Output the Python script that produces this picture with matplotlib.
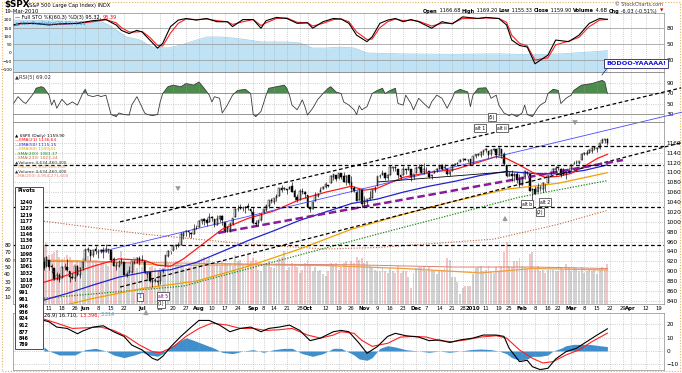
import numpy as np
import pandas as pd
import matplotlib
matplotlib.use("Agg")
import matplotlib.pyplot as plt
from matplotlib.patches import Rectangle, FancyArrowPatch

plt.rcParams['font.family'] = ['DejaVu Sans']

W, H = 682, 373

# ---------------- daily $SPX data, 2009-05-06 .. 2010-03-19 ----------------
opens = [903,919,910,922,911,906,884,892,886,909,908,900,889,887,910,893,907,
         923,942,942,932,945,938,941,943,939,943,942,925,911,910,920,918,893,897,899,918,919,927,
         920,921,894,898,881,881,880,880,900,911,930,940,942,951,953,954,972,979,981,978,976,986,
         990,1001,1005,1003,999,1009,1006,994,1005,1012,999,980,986,996,1009,1026,1026,1027,1027,1032,1025,
         1019,997,997,1003,1019,1024,1033,1044,1040,1049,1053,1068,1066,1067,1066,1072,1062,1050,1045,1063,1061,
         1055,1029,1026,1042,1053,1060,1066,1071,1074,1078,1090,1094,1088,1098,1092,1080,1095,1080,1068,1061,1044,1066,
         1037,1040,1047,1048,1064,1072,1092,1094,1098,1088,1094,1109,1110,1106,1094,1095,1106,1105,1106,1091,
         1098,1109,1111,1101,1105,1103,1092,1098,1104,1107,1114,1108,1106,1097,1103,1115,1118,1121,1127,1128,1125,1127,
         1117,1133,1136,1136,1141,1146,1143,1137,1146,1147,1136,1147,1138,1115,1092,1096,1092,1097,1087,
         1074,1090,1101,1097,1064,1066,1060,1069,1067,1075,1079,1096,1099,1105,1110,1107,1095,1101,1104,
         1106,1117,1119,1119,1125,1138,1137,1140,1143,1151,1148,1150,1160,1166,1166.68]
highs = [920,929,930,922,915,906,898,897,910,917,924,900,896,911,913,909,920,
         947,950,942,942,951,946,946,949,956,946,942,928,918,922,927,918,899,910,921,922,928,931,
         932,921,898,898,887,887,883,901,905,933,942,941,951,956,960,979,979,983,982,979,996,994,
         1003,1006,1007,1008,1018,1011,1006,1013,1013,1013,999,991,999,1008,1027,1035,1037,1033,1033,1039,1025,
         1029,1003,1003,1017,1026,1036,1044,1049,1049,1056,1068,1074,1071,1067,1073,1080,1066,1056,1066,1069,1063,
         1055,1031,1042,1060,1058,1070,1073,1081,1075,1094,1097,1094,1099,1099,1101,1095,1095,1092,1072,1063,1066,1066,
         1053,1046,1062,1066,1072,1093,1096,1105,1101,1097,1114,1111,1112,1106,1094,1112,1107,1112,1106,1097,
         1112,1117,1117,1119,1110,1103,1096,1105,1108,1115,1116,1117,1106,1103,1118,1120,1121,1127,1130,1130,1127,1128,
         1134,1137,1139,1143,1145,1150,1143,1148,1149,1148,1151,1147,1142,1115,1103,1104,1099,1100,1097,
         1090,1104,1102,1097,1068,1072,1079,1074,1080,1077,1095,1101,1108,1112,1113,1108,1108,1103,1108,
         1116,1124,1125,1123,1140,1141,1145,1148,1151,1153,1151,1160,1169,1167,1169.20]
lows = [903,902,909,903,896,882,882,878,886,903,901,879,884,881,891,887,903,
        923,938,923,929,934,926,936,927,939,936,919,911,903,908,915,893,888,896,897,915,916,913,
        920,896,886,879,869,878,872,875,896,911,928,934,940,945,950,953,966,972,969,968,976,986,
        990,995,994,992,999,1001,990,993,1000,994,979,980,980,993,1009,1022,1026,1021,1017,1023,1015,
        996,991,992,1001,1017,1022,1028,1038,1036,1043,1053,1061,1064,1057,1066,1060,1045,1040,1045,1057,1048,
        1029,1020,1025,1042,1050,1060,1066,1068,1070,1078,1085,1082,1086,1086,1080,1074,1075,1060,1060,1042,1044,1033,
        1029,1034,1044,1048,1060,1072,1088,1094,1085,1085,1094,1102,1102,1088,1087,1095,1097,1105,1083,1086,
        1098,1107,1098,1096,1100,1088,1086,1098,1101,1107,1105,1107,1094,1092,1103,1114,1116,1121,1124,1126,1122,1115,
        1117,1130,1134,1131,1136,1141,1130,1133,1143,1129,1136,1129,1114,1090,1092,1082,1083,1078,1071,
        1074,1087,1094,1063,1044,1056,1060,1062,1061,1063,1079,1095,1098,1101,1104,1091,1095,1086,1098,
        1105,1116,1116,1116,1125,1136,1135,1140,1139,1146,1141,1148,1160,1160,1155.33]
closes = [919,907,929,909,908,883,893,882,909,908,903,888,887,910,893,906,919,
          942,944,931,942,940,939,942,939,944,946,923,911,910,918,921,893,895,900,920,918,927,919,
          923,896,898,881,879,882,879,901,905,933,940,940,951,954,954,976,979,982,979,975,986,987,
          1002,1005,1002,997,1010,1007,994,1005,1012,1004,979,990,996,1007,1026,1025,1028,1028,1031,1029,1021,
          998,995,1003,1016,1025,1033,1044,1042,1049,1053,1068,1065,1068,1064,1071,1060,1050,1044,1062,1060,1057,
          1029,1025,1040,1054,1057,1065,1071,1076,1073,1092,1096,1087,1098,1091,1081,1092,1079,1066,1063,1043,1066,1036,
          1042,1046,1047,1066,1069,1093,1093,1098,1088,1094,1110,1110,1109,1095,1091,1106,1105,1110,1091,1096,
          1109,1110,1099,1106,1104,1091,1095,1102,1106,1114,1107,1110,1097,1102,1114,1118,1120,1126,1128,1126,1126,1115,
          1133,1137,1137,1142,1145,1147,1136,1146,1148,1136,1150,1138,1116,1092,1097,1092,1097,1084,1074,
          1090,1103,1098,1063,1066,1057,1071,1068,1079,1075,1095,1100,1107,1109,1108,1094,1106,1102,1105,
          1115,1118,1119,1123,1138,1138,1140,1146,1150,1150,1150,1160,1166,1166,1159.90]
# volume, hundreds of millions of shares
volumes = [84,78,82,66,68,70,73,64,61,63,66,64,58,54,60,57,62,
           64,65,60,58,60,54,56,58,54,52,58,62,60,56,72,60,55,56,54,64,48,52,
           50,42,44,50,52,48,46,48,44,52,56,55,52,58,56,54,50,48,50,52,56,54,
           60,62,64,60,62,52,54,56,52,58,56,54,56,52,66,58,60,54,52,66,58,
           62,60,46,44,52,56,58,50,48,56,62,64,72,46,50,56,54,50,42,46,56,
           60,54,44,50,44,46,40,38,44,56,54,56,46,50,56,58,50,58,56,64,60,62,
           56,58,52,48,46,44,44,48,44,42,48,44,42,52,42,44,44,36,22,42,
           48,50,50,52,44,50,46,44,40,46,46,48,62,60,36,36,30,14,22,24,24,24,
           40,48,50,52,44,46,52,44,42,50,44,52,70,84,52,50,58,58,62,
           52,50,48,68,70,48,52,44,46,42,46,46,46,44,44,50,46,54,50,
           44,50,48,44,50,42,44,46,44,46,40,46,50,46,54]

# trading-day offsets (0 = 2009-05-06) at which the overlays were read
ema21_days = [0,10,20,30,40,45,50,55,60,70,80,90,100,110,120,125,130,140,150,160,170,176,180,185,190,195,200,205,210,215,219]
ema21_vals = [876,892,910,925,922,912,910,925,945,985,1007,1022,1045,1060,1072,1064,1068,1090,1100,1106,1122,1132,1128,1115,1100,1090,1092,1098,1112,1128,1136.64]
ema50_days = [0,10,20,30,40,50,60,70,80,90,100,110,120,130,140,150,160,170,180,190,200,210,219]
ema50_vals = [840,855,872,888,898,903,918,940,962,982,1003,1020,1037,1046,1060,1072,1082,1094,1102,1098,1097,1104,1115.15]
ema89_days = [0,20,40,60,80,100,120,140,160,180,200,219]
ema89_vals = [820,845,866,880,910,945,985,1015,1042,1066,1078,1099.41]
sma200_days = [0,55,130,185,219]
sma200_vals = [845,870,975,1050,1083.37]
sma233_days = [0,40,80,110,130,175,200,219]
sma233_vals = [1002,975,955,945,948,965,995,1023.24]
vma50_days = [-11,20,50,80,110,140,170,190,219]
vma50_vals = [60,58,52,53,52,48,42,48,46]
vma200_days = [-11,40,80,120,160,190,219]
vma200_vals = [58,56,54,53,50,50,48]

# Full STO
sto_days = [-11,-8,-3,3,7,14,20,25,29,31,34,37,39,42,45,47,50,53,56,60,64,68,72,74,78,82,85,87,91,95,99,103,105,109,
            113,116,119,122,126,128,131,134,137,140,143,146,151,155,159,163,169,172,177,180,182,185,188,191,196,199,
            204,208,212,216,219]
sto_k = [85,88,88,85,87,88,93,95,85,75,69,75,72,57,42,51,82,94,97,94,97,91,91,82,95,95,79,93,99,97,88,89,79,91,
         97,96,88,66,54,63,88,94,97,91,95,91,79,91,87,100,97,99,97,85,57,47,44,13,29,57,
         54,66,88,97,95.32]
sto_d = [83,87,88,86,86,88,91,95,89,80,72,72,73,62,47,46,70,88,96,95,96,93,91,86,91,95,84,89,97,98,90,89,83,88,
         95,96,91,72,58,59,80,91,96,93,94,92,83,88,88,97,97,98,97,90,66,51,46,20,24,48,
         55,62,82,94,95.39]
band_days = [-11,3,23,26,33,38,43,49,54,59,64,69,74,80,85,90,95,100,105,110,116,121,126,139,158,177,189,201,216,219]
band_vals = [200,195,190,170,97,79,36,30,48,73,97,97,91,79,67,67,67,61,30,30,36,30,0,-5,-8,-5,-10,-5,10,15]

# RSI(5)
rsi_days = [-11,-9,-7,-6,-3,-2,0,1,3,4,5,6,8,10,12,14,16,17,18,20,22,23,25,27,29,30,32,34,35,37,38,40,41,43,45,46,47,
            49,51,54,56,59,61,63,65,66,67,69,70,72,74,76,79,81,82,83,85,87,88,91,94,95,96,97,99,101,102,103,105,
            107,109,111,112,114,116,117,119,121,122,123,124,126,128,130,132,133,135,137,138,140,141,143,144,146,148,
            150,151,153,155,157,159,160,162,165,166,167,169,172,173,174,176,177,179,181,182,184,186,187,188,190,192,
            193,195,196,198,200,201,203,205,206,209,213,217,218,219]
rsi_vals = [48,63,53,50,69,79,82,80,66,47,57,41,58,47,53,47,69,77,66,63,66,63,66,29,25,32,29,28,47,63,53,32,29,27,29,53,69,
            82,85,82,88,85,91,79,66,53,63,60,32,47,66,75,77,69,29,25,35,66,79,82,85,79,66,47,38,57,44,28,41,
            58,69,79,82,72,69,53,47,38,29,46,38,44,69,75,79,69,75,79,50,47,66,50,38,60,50,
            41,53,66,60,41,60,72,77,72,44,66,79,80,72,60,66,47,32,27,30,25,32,47,29,25,41,
            47,53,69,77,75,50,60,66,75,85,88,94,91,69.02]

# MACD(12,26,9)
macd_days = [1,3,6,10,14,16,20,24,28,32,35,39,43,45,47,50,54,58,61,65,69,73,77,81,85,88,92,96,100,104,108,113,116,119,
             123,126,130,134,137,141,146,150,154,158,162,167,171,176,179,181,185,188,190,193,196,199,203,207,211,215,219]
macd_vals = [23,22,18,17,13,15,18,19,14.5,11,4.5,0.8,-5.5,-7,-4,3,11,18,23,23,19.5,14.5,17,18,14.5,17,18,19.5,15.5,7.8,
             9.7,14.5,15.5,14.5,5.8,-1.7,3.3,11,13.3,11.5,10.5,7.8,8.3,6.4,8.3,9.7,12,12,11,2,-8,-7,-11.8,-14,-13,-6,
             -0.5,2,7,12,16.71]
sig_days = [1,6,12,18,23,28,33,38,43,46,51,56,61,66,72,77,82,87,92,97,103,108,113,116,121,124,128,134,139,144,149,154,
            159,164,170,176,180,185,190,194,198,203,208,213,219]
sig_vals = [24,21,17,17.5,18,15.5,11,4.5,-0.5,-1.3,3,11,17,21,19.5,17,17,15.5,16,17,12,9.7,12,14.5,13.3,8,3.5,5.8,
            10.5,11,10.5,7.8,7,8.3,10.5,11.5,9.7,0.8,-5.5,-9,-8,-3,0.8,7,13.396]
hist_days = [1,3,7,13,17,21,25,28,32,36,39,42,45,47,50,54,56,59,63,67,70,74,78,82,86,90,94,97,101,105,109,113,116,117,
             121,123,126,128,131,134,137,141,146,150,154,158,162,166,170,174,177,180,182,185,188,190,193,196,198,201,
             203,206,212,216,219]
hist_vals = [3,0,-3,-3,1,2,0,-3,-5,-3,-1,-3,-4,-2,3,8,10,8,5,2,-1,-2,0,1,-1,1,2,2,-2,-4,-2,2,2,1,
             -3,-6,-7,-5,2,4,3,1,0,-1,0,-1,0,1,1.5,1,0,-2,-5,-7,-6,-4,-4,-3,0,2,
             4,5,5,4,3.314]

pivots = ['1240','1227','1219','1177','1168','1146','1136','1107','1098','1071','1061','1032',
          '1018','1007','991','961','946','936','924','912','877','846','789']

tick_dates = ['2009-05-11','2009-05-18','2009-05-26','2009-06-01','2009-06-08','2009-06-15','2009-06-22',
              '2009-07-01','2009-07-13','2009-07-20','2009-07-27','2009-08-03','2009-08-10','2009-08-17',
              '2009-08-24','2009-09-01','2009-09-08','2009-09-14','2009-09-21','2009-09-28','2009-10-01',
              '2009-10-12','2009-10-19','2009-10-26','2009-11-02','2009-11-09','2009-11-16','2009-11-23',
              '2009-12-01','2009-12-07','2009-12-14','2009-12-21','2009-12-28','2010-01-04','2010-01-11',
              '2010-01-19','2010-01-25','2010-02-01','2010-02-08','2010-02-16','2010-02-22','2010-03-01',
              '2010-03-08','2010-03-15','2010-03-22','2010-03-29','2010-04-01','2010-04-12','2010-04-19']
tick_labels = ['11','18','26','Jun','8','15','22','Jul','13','20','27','Aug','10','17','24','Sep','8','14','21',
               '28','Oct','12','19','26','Nov','9','16','23','Dec','7','14','21','28','2010','11','19','25','Feb',
               '8','16','22','Mar','8','15','22','29','Apr','12','19']

holidays = ['2009-05-25','2009-07-03','2009-09-07','2009-11-26','2009-12-25','2010-01-01',
            '2010-01-18','2010-02-15','2010-04-02']
tdays = pd.bdate_range('2009-05-06', '2010-04-30')
tdays = tdays[~tdays.isin(pd.to_datetime(holidays))]
pos = {d.strftime('%Y-%m-%d'): i for i, d in enumerate(tdays)}
tick_idx = [pos[d] for d in tick_dates]

X0, X1 = -10.93, 240.9
GRID = dict(color='#9a9a9a', lw=0.45, ls=(0, (1, 2)))

fig = plt.figure(figsize=(W / 100, H / 100), dpi=100)
fig.patch.set_facecolor('white')
renderer = fig.canvas.get_renderer()


def panel(top, bottom):
    return fig.add_axes([13 / W, 1 - bottom / H, 651 / W, (bottom - top) / H])


def style(ax, ylim, yt):
    ax.set_xlim(X0, X1)
    ax.set_ylim(*ylim)
    ax.set_xticks(tick_idx)
    ax.set_xticklabels([])
    ax.yaxis.tick_right()
    ax.set_yticks(yt)
    ax.tick_params(axis='both', length=0, labelsize=4.2, pad=2)
    ax.grid(True, **GRID)
    for s in ax.spines.values():
        s.set_color('#8a8a8a')
        s.set_linewidth(0.5)


def ftext(x, y, s, **kw):
    kw.setdefault('fontsize', 4)
    kw.setdefault('va', 'center')
    return fig.text(x / W, 1 - y / H, s, **kw)


def run(x, y, parts, fs, right=False):
    # consecutive text pieces, each placed after the measured width of the previous one
    ts = [ftext(0, y, s, fontsize=fs, color=col, fontweight=wt) for s, col, wt in parts]
    widths = [t.get_window_extent(renderer).width for t in ts]
    if right:
        x -= sum(widths)
    for t, w in zip(ts, widths):
        t.set_x(x / W)
        x += w
    return ts


# ---------- STO panel ----------
ax1 = panel(13, 72)
ax1b = ax1.twinx()
ax1b.fill_between(band_days, band_vals, -200, color='#bfe2f4', lw=0)
ax1b.plot(band_days, band_vals, color='#9ccbe8', lw=0.5)
ax1b.set_ylim(-115, 242)
ax1b.yaxis.tick_left()
ax1b.set_yticks([200, 150, 100, 50, 0, -50, -100])
ax1b.tick_params(length=0, labelsize=3.2, pad=0.8)
for s in ax1b.spines.values():
    s.set_visible(False)
ax1.set_zorder(ax1b.get_zorder() + 1)
ax1.patch.set_visible(False)
style(ax1, (-2.3, 107.2), [20, 50, 80])
for lev in (20, 50, 80):
    ax1.axhline(lev, color='#9a9a9a', lw=0.5)
ax1.plot(sto_days, sto_d, color='#ff2020', lw=0.8)
ax1.plot(sto_days, sto_k, color='black', lw=0.8)

# ---------- RSI panel ----------
ax2 = panel(72, 122)
style(ax2, (14.8, 110), [30, 50, 70, 90])
ax2.axhline(70, color='#8a8a8a', lw=0.6)
ax2.axhline(30, color='#8a8a8a', lw=0.6)
rd = np.array(rsi_days, float)
rv = np.array(rsi_vals, float)
ax2.fill_between(rd, rv, 70, where=rv > 70, interpolate=True, color='#4e8c4e', lw=0)
ax2.fill_between(rd, rv, 30, where=rv < 30, interpolate=True, color='#b86e6e', lw=0)
ax2.plot(rd, rv, color='#3c3c3c', lw=0.6)

# ---------- price panel ----------
ax3 = panel(122, 304)
ax3v = ax3.twinx()
o = np.array(opens, float)
hgh = np.array(highs, float)
low = np.array(lows, float)
c = np.array(closes, float)
v = np.array(volumes, float)
n = len(c)
idx = np.arange(n)
down = np.r_[False, c[1:] < c[:-1]]
ax3v.bar(idx, v, width=0.75, color=np.where(down, '#f6c4c4', '#d2d2d2'), lw=0)
ax3v.plot(vma50_days, vma50_vals, color='#f0a040', lw=0.9)
ax3v.plot(vma200_days, vma200_vals, color='#e08070', lw=0.7)
ax3v.set_ylim(0, 246)
ax3v.yaxis.tick_left()
ax3v.set_yticks([10, 20, 30, 40, 50, 60, 70, 80])
ax3v.tick_params(length=0, labelsize=3.8, pad=1.5)
for s in ax3v.spines.values():
    s.set_visible(False)
ax3.set_zorder(ax3v.get_zorder() + 1)
ax3.patch.set_visible(False)
style(ax3, (833.7, 1202), list(range(840, 1161, 20)))
ax3.set_xticklabels(tick_labels)
ax3.tick_params(axis='x', pad=1.2, labelsize=3.8)
for t in ax3.get_xticklabels():
    if not t.get_text().isdigit() or t.get_text() == '2010':
        t.set_fontweight('bold')

# moving averages
ax3.plot(sma233_days, sma233_vals, color='#c8643c', lw=0.8, ls=(0, (1, 1.5)))
ax3.plot(sma200_days, sma200_vals, color='#1a8a1a', lw=0.9, ls=(0, (1, 1.2)))
ax3.plot(ema89_days, ema89_vals, color='#f0a000', lw=0.9)
ax3.plot(ema50_days, ema50_vals, color='#2222cc', lw=0.9)
ax3.plot(ema21_days, ema21_vals, color='#ff1a1a', lw=0.9)

# trend lines drawn on the chart
dash = (0, (3, 2))
ax3.plot([30.5, 247.5], [1000, 1271], color='black', lw=0.9, ls=dash, clip_on=False)
ax3.plot([30.5, 247.5], [868, 1160], color='black', lw=0.9, ls=dash, clip_on=False)
ax3.plot([22.7, 247.9], [939, 1222], color='#4a4aff', lw=0.6, clip_on=False)
ax3.plot([68.4, 225], [977.5, 1125], color='#8a1a9a', lw=1.8, ls=(0, (3, 1.5)))
ax3.plot([171.7, X1], [1153.6, 1153.6], color='black', lw=0.9, ls=dash)
for lev in (1115, 1030, 953):
    ax3.plot([X0, X1], [lev, lev], color='black', lw=0.9, ls=dash)
ax3.plot([130.3, 180], [1080.7, 1101], color='black', lw=0.6)

# candlesticks
ax3.vlines(idx, low, hgh, color='black', lw=0.45)
ax3.bar(idx, np.maximum(np.abs(c - o), 0.8), bottom=np.minimum(o, c), width=0.62,
        color=np.where(c >= o, 'white', 'black'), edgecolor='black', lw=0.35)

# ---------- MACD panel ----------
ax4 = panel(313, 370)
style(ax4, (-14.3, 28.6), [-10, 0, 10, 20])
ax4.fill_between(hist_days, hist_vals, 0, color='#3e8fcc', lw=0)
ax4.plot(sig_days, sig_vals, color='#ff2020', lw=0.8)
ax4.plot(macd_days, macd_vals, color='black', lw=0.8)

# ---------- texts ----------
ftext(4, 5, '$SPX', fontsize=6.3, fontweight='bold')
ftext(27, 5.5, '(S&P 500 Large Cap Index) INDX', fontsize=3.7)
ftext(4, 11.5, '19-Mar-2010', fontsize=3.9)
ftext(663, 4, '\u00a9 StockCharts.com', fontsize=3.5, ha='right', color='#444444')
B, N = 'bold', 'normal'
run(657, 11, [('Open', 'black', B), (' 1166.68 ', 'black', N), ('High', 'black', B), (' 1169.20 ', 'black', N),
              ('Low', 'black', B), (' 1155.33 ', 'black', N), ('Close', 'black', B), (' 1159.90 ', 'black', N),
              ('Volume', 'black', B), (' 4.6B ', 'black', N), ('Chg', 'black', B),
              (' -6.03 (-0.51%)', 'black', N)], 3.6, right=True)
ftext(663, 11, '\u25bc', fontsize=3.2, color='#cc0000', ha='right')

run(15, 17.5, [('\u2014 Full STO %K(60,3) %D(3) 95.32, ', 'black', N), ('95.39', '#ff0000', N)], 3.6)
ftext(15, 23.5, '\u25b2 Vol. Oscillator(20,50) 1.31', fontsize=3.6, color='#3a8fd0')
ftext(15, 77, '\u25b2RSI(5) 69.02', fontsize=3.7, color='#333333')

leg = [('\u25b2 $SPX (Daily) 1159.90', 'black'), ('\u2014EMA(21) 1136.64', '#ff0000'),
       ('\u2014EMA(50) 1115.15', '#2222cc'), ('\u2014EMA(89) 1099.41', '#f0a000'),
       ('--SMA(200) 1083.37', '#1a8a1a'), ('--SMA(233) 1023.24', '#c8643c'),
       ('\u25b2Volume 4,634,460,400', '#333333'), ('--MA(50) 4,634,966,280', '#f0a040'),
       ('\u25b2Volume 4,634,460,400', '#333333'), ('--MA(200) 4,954,271,600', '#e08070')]
for k, (s, col) in enumerate(leg):
    ftext(15, 136 + 4.4 * k, s, fontsize=3.1, color=col)

# the start of the MACD legend is hidden by the pivots table
run(44, 315, [('26,9) 16.710, ', 'black', N), ('13.396, ', '#ff0000', N), ('3.314', '#3e8fcc', N)], 3.6)

# pivots box
fig.add_artist(Rectangle((15 / W, 1 - 349 / H), 28 / W, 162 / H, transform=fig.transFigure,
                         facecolor='white', edgecolor='#303030', lw=0.6, zorder=20))
ftext(17, 191, 'Pivots', fontsize=3.7, fontweight='bold', zorder=21)
for k, p in enumerate(pivots):
    ftext(19, 202 + 6.5 * k, p, fontsize=3.4, fontweight='bold', zorder=21)

# labels on the chart
box = dict(boxstyle='square,pad=0.25', fc='white', ec='#303030', lw=0.5)
ftext(636, 63.5, 'BODOO-YAAAAA!', fontsize=4.6, fontweight='bold', color='#1010e0', ha='center',
      bbox=dict(boxstyle='square,pad=0.3', fc='white', ec='#202060', lw=0.6), zorder=25)
fig.add_artist(plt.Line2D([602 / W, 608 / W], [1 - 75 / H, 1 - 67 / H], color='#202060', lw=0.5))
for s, xx, yy, col in [('1', 140, 297, '#2020d0'), ('alt 5', 163, 296, '#800080'), ('(1)', 161, 304, 'black'),
                       ('alt 1', 480, 128, 'black'), ('alt ii', 502, 128, 'black'), ('(5)', 492, 117, 'black'),
                       ('alt b', 527, 204, 'black'), ('alt 2', 545, 202, 'black'), ('(2)', 540, 212, 'black')]:
    ftext(xx, yy, s, fontsize=3.3, color=col, ha='center', bbox=box, zorder=25)

arrow = dict(arrowstyle='simple,head_width=0.5,head_length=0.45,tail_width=0.22', color='#9a9a9a', lw=0)
for (xa, ya, yb) in [(178, 184, 194), (575, 118, 128), (505, 224, 213), (146, 318, 307)]:
    fig.add_artist(FancyArrowPatch((xa / W, 1 - ya / H), (xa / W, 1 - yb / H),
                                   transform=fig.transFigure, mutation_scale=8, **arrow))

fig.add_artist(Rectangle((2 / W, 2 / H), (W - 4) / W, (H - 4) / H, transform=fig.transFigure,
                         fill=False, edgecolor='#e6b060', lw=0.8, ls=(0, (1, 1.5))))

fig.savefig('out.png', dpi=100, facecolor='white')
